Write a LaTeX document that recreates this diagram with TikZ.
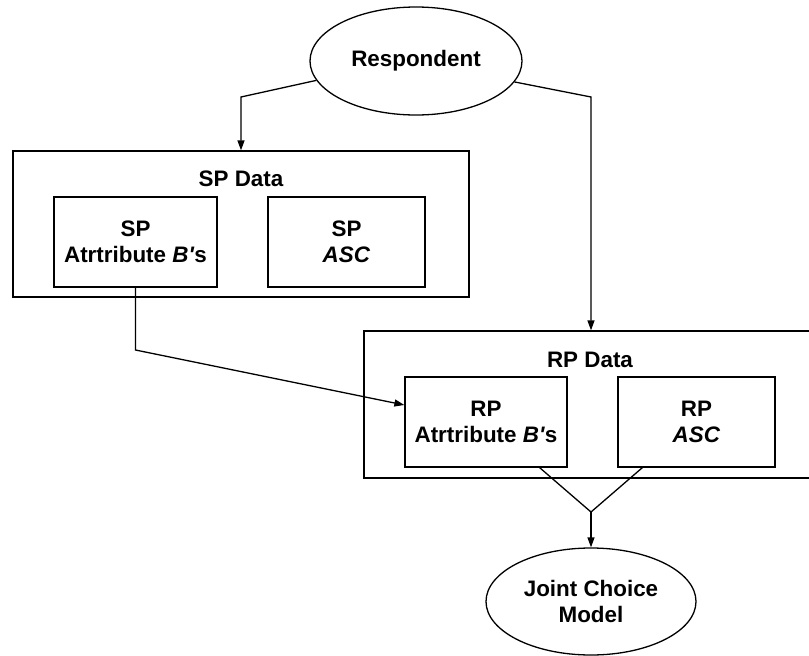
\documentclass[tikz,border=0pt]{standalone}
\usepackage{fontspec}
\setmainfont{Liberation Sans}[Ligatures=TeXOff]
\usetikzlibrary{shapes.geometric,arrows.meta,calc}
\begin{document}
\begin{tikzpicture}[x=1pt,y=-1pt, line width=1.3pt,
  every node/.style={font=\fontsize{22.4}{26}\selectfont\bfseries, align=center, inner sep=0pt},
  oval/.style={draw, ellipse},
  outerbox/.style={draw, rectangle},
  inbox/.style={draw, rectangle, minimum height=90pt},
  arr/.style={-{Triangle[length=10pt,width=7pt]}}]
\useasboundingbox (0,0) rectangle (809,656);
\clip (0,0) rectangle (809,656);
\fill[white] (0,0) rectangle (809,656);
% nodes
\node[oval, minimum width=212pt, minimum height=108pt] (resp) at (416,61) {Respondent};
\node[outerbox, minimum width=456pt, minimum height=146pt] (sp) at (241,224) {};
\node (splab) at (241,179) {SP Data};
\node[inbox, minimum width=163pt] (spattr) at (135.5,242) {SP\\Atrtribute \textit{B'}s};
\node[inbox, minimum width=157pt] (spasc) at (346.5,242) {SP\\\textit{ASC}};
\node[outerbox, minimum width=454pt, minimum height=147pt] (rp) at (591,404.5) {};
\node (rplab) at (590,360) {RP Data};
\node[inbox, minimum width=162pt] (rpattr) at (486,422) {RP\\Atrtribute \textit{B'}s};
\node[inbox, minimum width=157pt] (rpasc) at (696.5,422) {RP\\\textit{ASC}};
\node[oval, minimum width=210pt, minimum height=107pt] (jcm) at (591,601.5) {Joint Choice\\Model};
% connectors
\coordinate (cL) at (241,97);
\coordinate (cR) at (591,97);
\coordinate (bend) at (135.5,350);
\coordinate (j) at (591,512);
\draw[arr] (resp.191) -- (cL) -- (sp.north);
\draw[arr] (resp.348) -- (cR) -- (rp.north);
\draw[arr] (spattr.south) -- (bend) -- ($(rpattr.west)+(0,-17)$);
\draw ($(rpattr.south east)+(-28,0)$) -- (j) -- ($(rpasc.south west)+(25,0)$);
\draw[arr] (j) -- (jcm.north);
\end{tikzpicture}
\end{document}
